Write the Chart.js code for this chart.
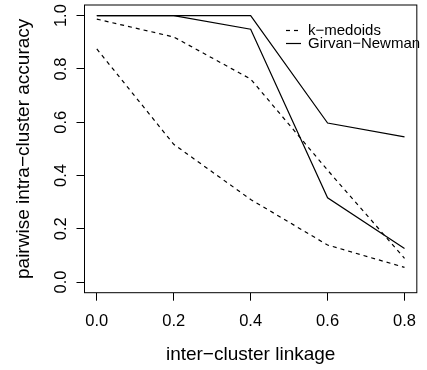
<!DOCTYPE html>
<html>
<head>
<meta charset="utf-8">
<script src="https://cdn.jsdelivr.net/npm/chart.js@4"></script>
<style>
  body { margin: 0; background: #fff; }
  canvas { display: block; }
</style>
</head>
<body>
<canvas id="chart" width="427" height="370"></canvas>
<script>
// linkage values on the x axis
const linkage = [0.0, 0.2, 0.4, 0.6, 0.8];

// accuracy curves
const kMedoidsHigh = [0.987, 0.92, 0.762, 0.42, 0.089];
const kMedoidsLow = [0.875, 0.517, 0.31, 0.139, 0.055];
const girvanHigh = [1.0, 1.0, 1.0, 0.597, 0.545];
const girvanLow = [1.0, 1.0, 0.949, 0.316, 0.126];

const xTicks = [0.0, 0.2, 0.4, 0.6, 0.8];
const xTickLabels = ['0.0', '0.2', '0.4', '0.6', '0.8'];
const yTicks = [0.0, 0.2, 0.4, 0.6, 0.8, 1.0];
const yTickLabels = ['0.0', '0.2', '0.4', '0.6', '0.8', '1.0'];
const legendLabels = ['k\u2212medoids', 'Girvan\u2212Newman'];

const FONT = '"Liberation Sans", Arial, Helvetica, sans-serif';

const toPoints = (ys) => linkage.map((x, i) => ({ x: x, y: ys[i] }));

const lineStyle = (dashed) => ({
  borderColor: '#000',
  borderWidth: 1.2,
  borderDash: dashed ? [4, 4] : [],
  pointRadius: 0,
  tension: 0,
  fill: false,
  showLine: true
});

// R-style box round the plot region
const plotBox = {
  id: 'plotBox',
  afterDraw(chart) {
    const { ctx, chartArea: a } = chart;
    ctx.save();
    ctx.strokeStyle = '#000';
    ctx.lineWidth = 1;
    ctx.strokeRect(a.left, a.top, a.right - a.left, a.bottom - a.top);
    ctx.restore();
  }
};

// y tick labels run parallel to the axis, like R's las=0
const yLabels = {
  id: 'yLabels',
  afterDraw(chart) {
    const { ctx } = chart;
    const y = chart.scales.y;
    ctx.save();
    ctx.font = '16.5px ' + FONT;
    ctx.fillStyle = '#000';
    ctx.textAlign = 'center';
    ctx.textBaseline = 'middle';
    y.ticks.forEach((t) => {
      ctx.save();
      ctx.translate(y.right - 23, y.getPixelForValue(t.value));
      ctx.rotate(-Math.PI / 2);
      ctx.fillText(t.label, 0, 0);
      ctx.restore();
    });
    ctx.restore();
  }
};

// legend without frame, top right inside the plot
const plainLegend = {
  id: 'plainLegend',
  afterDraw(chart) {
    const { ctx } = chart;
    const dashes = [[4, 4], []];
    ctx.save();
    ctx.font = '15px ' + FONT;
    ctx.fillStyle = '#000';
    ctx.strokeStyle = '#000';
    ctx.lineWidth = 1.2;
    ctx.textAlign = 'left';
    ctx.textBaseline = 'middle';
    legendLabels.forEach((txt, i) => {
      const yy = 30.5 + i * 13;
      ctx.setLineDash(dashes[i]);
      ctx.beginPath();
      ctx.moveTo(286, yy);
      ctx.lineTo(301, yy);
      ctx.stroke();
      ctx.setLineDash([]);
      ctx.fillText(txt, 308, yy);
    });
    ctx.restore();
  }
};

new Chart(document.getElementById('chart'), {
  type: 'scatter',
  data: {
    datasets: [
      { label: legendLabels[0], data: toPoints(kMedoidsHigh), ...lineStyle(true) },
      { label: legendLabels[0], data: toPoints(kMedoidsLow), ...lineStyle(true) },
      { label: legendLabels[1], data: toPoints(girvanHigh), ...lineStyle(false) },
      { label: legendLabels[1], data: toPoints(girvanLow), ...lineStyle(false) }
    ]
  },
  options: {
    responsive: false,
    animation: false,
    layout: { padding: { top: 5, right: 0.5, left: 0, bottom: 0 } },
    plugins: {
      legend: { display: false },
      tooltip: { enabled: false }
    },
    scales: {
      x: {
        type: 'linear',
        min: -0.032,
        max: 0.832,
        afterBuildTicks: (s) => { s.ticks = xTicks.map(v => ({ value: v })); },
        afterFit: (s) => { s.height = 77.3; },
        border: { display: false },
        grid: { display: true, drawOnChartArea: false, drawTicks: true, tickLength: 8, color: '#000', lineWidth: 1 },
        ticks: {
          autoSkip: false,
          maxRotation: 0,
          padding: 11,
          color: '#000',
          font: { family: FONT, size: 16.5 },
          callback: (v, i) => xTickLabels[i]
        },
        title: {
          display: true,
          text: 'inter\u2212cluster linkage',
          color: '#000',
          font: { family: FONT, size: 19 },
          padding: { top: 0, bottom: 4 }
        }
      },
      y: {
        type: 'linear',
        min: -0.04,
        max: 1.04,
        afterBuildTicks: (s) => { s.ticks = yTicks.map(v => ({ value: v })); },
        afterFit: (s) => { s.width = 84.5; },
        border: { display: false },
        grid: { display: true, drawOnChartArea: false, drawTicks: true, tickLength: 8, color: '#000', lineWidth: 1 },
        ticks: {
          display: false,
          callback: (v, i) => yTickLabels[i]
        },
        title: {
          display: true,
          text: 'pairwise intra\u2212cluster accuracy',
          color: '#000',
          font: { family: FONT, size: 19 },
          padding: { top: 12, bottom: 0 }
        }
      }
    }
  },
  plugins: [plotBox, yLabels, plainLegend]
});
</script>
</body>
</html>
